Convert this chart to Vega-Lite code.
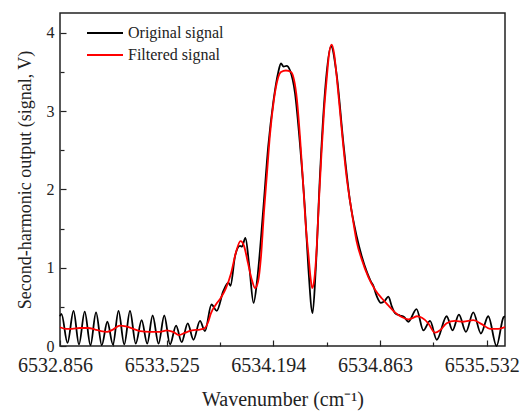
{
  "$schema": "https://vega.github.io/schema/vega-lite/v6.json",
  "width": 445,
  "height": 333,
  "autosize": {"type": "none"},
  "padding": {"left": 60, "top": 13, "right": 17, "bottom": 66},
  "background": "white",
  "config": {
    "view": {"stroke": "#222", "strokeWidth": 1.5},
    "font": "Liberation Serif",
    "axis": {"grid": false, "domain": false, "tickColor": "#222", "tickWidth": 1.2, "labelColor": "#222", "titleColor": "#222", "titleFontWeight": "normal", "labelFont": "Liberation Serif", "titleFont": "Liberation Serif"}
  },
  "datasets": {
    "orig": [
      {"x": 6532.856, "y": 0.38}, {"x": 6532.865, "y": 0.41}, {"x": 6532.903, "y": 0.04}, {"x": 6532.941, "y": 0.45},
      {"x": 6532.975, "y": 0.02}, {"x": 6533.011, "y": 0.44}, {"x": 6533.047, "y": 0.01}, {"x": 6533.082, "y": 0.43},
      {"x": 6533.118, "y": 0.01}, {"x": 6533.153, "y": 0.31}, {"x": 6533.188, "y": 0.02}, {"x": 6533.223, "y": 0.45},
      {"x": 6533.259, "y": 0.02}, {"x": 6533.295, "y": 0.45}, {"x": 6533.331, "y": 0.03}, {"x": 6533.368, "y": 0.33},
      {"x": 6533.403, "y": 0.03}, {"x": 6533.437, "y": 0.39}, {"x": 6533.474, "y": 0.03}, {"x": 6533.510, "y": 0.39},
      {"x": 6533.546, "y": 0.02}, {"x": 6533.584, "y": 0.26}, {"x": 6533.619, "y": 0.05}, {"x": 6533.657, "y": 0.29},
      {"x": 6533.693, "y": 0.08}, {"x": 6533.734, "y": 0.32}, {"x": 6533.765, "y": 0.19}, {"x": 6533.806, "y": 0.53},
      {"x": 6533.839, "y": 0.45}, {"x": 6533.880, "y": 0.70}, {"x": 6533.912, "y": 0.81}, {"x": 6533.925, "y": 0.77},
      {"x": 6533.954, "y": 1.15}, {"x": 6533.985, "y": 1.28}, {"x": 6533.997, "y": 1.27}, {"x": 6534.019, "y": 1.38},
      {"x": 6534.043, "y": 1.02}, {"x": 6534.070, "y": 0.55}, {"x": 6534.093, "y": 0.85}, {"x": 6534.131, "y": 1.75},
      {"x": 6534.162, "y": 2.55}, {"x": 6534.194, "y": 3.12}, {"x": 6534.225, "y": 3.50}, {"x": 6534.242, "y": 3.61},
      {"x": 6534.258, "y": 3.57}, {"x": 6534.277, "y": 3.58}, {"x": 6534.299, "y": 3.52}, {"x": 6534.330, "y": 3.23},
      {"x": 6534.361, "y": 2.58}, {"x": 6534.393, "y": 1.72}, {"x": 6534.413, "y": 1.02}, {"x": 6534.440, "y": 0.42},
      {"x": 6534.460, "y": 0.98}, {"x": 6534.487, "y": 2.20}, {"x": 6534.518, "y": 3.25}, {"x": 6534.556, "y": 3.83},
      {"x": 6534.591, "y": 3.47}, {"x": 6534.633, "y": 2.60}, {"x": 6534.675, "y": 1.85}, {"x": 6534.717, "y": 1.40},
      {"x": 6534.748, "y": 1.15}, {"x": 6534.780, "y": 0.95}, {"x": 6534.807, "y": 0.82}, {"x": 6534.819, "y": 0.78},
      {"x": 6534.842, "y": 0.64}, {"x": 6534.869, "y": 0.55}, {"x": 6534.894, "y": 0.58}, {"x": 6534.915, "y": 0.63},
      {"x": 6534.938, "y": 0.50}, {"x": 6534.957, "y": 0.42}, {"x": 6534.988, "y": 0.39}, {"x": 6535.014, "y": 0.37},
      {"x": 6535.041, "y": 0.31}, {"x": 6535.092, "y": 0.47}, {"x": 6535.135, "y": 0.20}, {"x": 6535.177, "y": 0.32},
      {"x": 6535.219, "y": 0.08}, {"x": 6535.281, "y": 0.38}, {"x": 6535.318, "y": 0.20}, {"x": 6535.358, "y": 0.40},
      {"x": 6535.402, "y": 0.18}, {"x": 6535.448, "y": 0.43}, {"x": 6535.496, "y": 0.16}, {"x": 6535.542, "y": 0.38},
      {"x": 6535.594, "y": 0.00}, {"x": 6535.638, "y": 0.37}, {"x": 6535.647, "y": 0.38}
    ],
    "filt": [
      {"x": 6532.856, "y": 0.24}, {"x": 6532.894, "y": 0.22}, {"x": 6532.931, "y": 0.22}, {"x": 6532.981, "y": 0.23},
      {"x": 6533.032, "y": 0.23}, {"x": 6533.076, "y": 0.21}, {"x": 6533.113, "y": 0.19}, {"x": 6533.151, "y": 0.18},
      {"x": 6533.188, "y": 0.21}, {"x": 6533.232, "y": 0.26}, {"x": 6533.270, "y": 0.25}, {"x": 6533.314, "y": 0.22},
      {"x": 6533.358, "y": 0.19}, {"x": 6533.420, "y": 0.18}, {"x": 6533.483, "y": 0.18}, {"x": 6533.527, "y": 0.20},
      {"x": 6533.565, "y": 0.18}, {"x": 6533.602, "y": 0.14}, {"x": 6533.640, "y": 0.17}, {"x": 6533.684, "y": 0.20},
      {"x": 6533.734, "y": 0.21}, {"x": 6533.765, "y": 0.23}, {"x": 6533.784, "y": 0.30}, {"x": 6533.803, "y": 0.42},
      {"x": 6533.834, "y": 0.53}, {"x": 6533.866, "y": 0.62}, {"x": 6533.897, "y": 0.74}, {"x": 6533.929, "y": 0.93},
      {"x": 6533.960, "y": 1.20}, {"x": 6533.988, "y": 1.34}, {"x": 6534.010, "y": 1.28}, {"x": 6534.035, "y": 1.06},
      {"x": 6534.060, "y": 0.84}, {"x": 6534.079, "y": 0.74}, {"x": 6534.098, "y": 0.82}, {"x": 6534.117, "y": 1.15},
      {"x": 6534.135, "y": 1.70}, {"x": 6534.154, "y": 2.20}, {"x": 6534.173, "y": 2.70}, {"x": 6534.198, "y": 3.15},
      {"x": 6534.223, "y": 3.42}, {"x": 6534.242, "y": 3.50}, {"x": 6534.273, "y": 3.52}, {"x": 6534.305, "y": 3.50},
      {"x": 6534.324, "y": 3.40}, {"x": 6534.342, "y": 3.15}, {"x": 6534.361, "y": 2.68}, {"x": 6534.382, "y": 2.04},
      {"x": 6534.399, "y": 1.50}, {"x": 6534.415, "y": 1.15}, {"x": 6534.427, "y": 0.88}, {"x": 6534.438, "y": 0.74},
      {"x": 6534.451, "y": 0.85}, {"x": 6534.466, "y": 1.25}, {"x": 6534.480, "y": 1.85}, {"x": 6534.497, "y": 2.50},
      {"x": 6534.512, "y": 3.00}, {"x": 6534.529, "y": 3.42}, {"x": 6534.543, "y": 3.72}, {"x": 6534.559, "y": 3.85},
      {"x": 6534.575, "y": 3.74}, {"x": 6534.591, "y": 3.45}, {"x": 6534.612, "y": 3.00}, {"x": 6534.633, "y": 2.55},
      {"x": 6534.654, "y": 2.15}, {"x": 6534.675, "y": 1.85}, {"x": 6534.696, "y": 1.58}, {"x": 6534.717, "y": 1.33},
      {"x": 6534.748, "y": 1.11}, {"x": 6534.790, "y": 0.88}, {"x": 6534.832, "y": 0.72}, {"x": 6534.874, "y": 0.61},
      {"x": 6534.915, "y": 0.52}, {"x": 6534.957, "y": 0.43}, {"x": 6534.999, "y": 0.37}, {"x": 6535.041, "y": 0.34},
      {"x": 6535.070, "y": 0.36}, {"x": 6535.095, "y": 0.38}, {"x": 6535.126, "y": 0.36}, {"x": 6535.166, "y": 0.29},
      {"x": 6535.208, "y": 0.17}, {"x": 6535.239, "y": 0.20}, {"x": 6535.281, "y": 0.29}, {"x": 6535.333, "y": 0.32},
      {"x": 6535.385, "y": 0.31}, {"x": 6535.448, "y": 0.33}, {"x": 6535.501, "y": 0.28}, {"x": 6535.553, "y": 0.22},
      {"x": 6535.605, "y": 0.22}, {"x": 6535.647, "y": 0.24}
    ]
  },
  "encoding": {
    "x": {
      "field": "x", "type": "quantitative",
      "scale": {"domain": [6532.856, 6535.647], "nice": false, "zero": false},
      "axis": {
        "values": [6532.856, 6533.1905, 6533.525, 6533.8595, 6534.194, 6534.5285, 6534.863, 6535.1975, 6535.532],
        "labelExpr": "indexof([6532.856, 6533.525, 6534.194, 6534.863, 6535.532], datum.value) >= 0 ? format(datum.value, '.3f') : ''",
        "tickSize": {"condition": {"test": "indexof([6532.856, 6533.525, 6534.194, 6534.863, 6535.532], datum.value) >= 0", "value": -6}, "value": -4},
        "labelFontSize": 20, "labelPadding": 15, "labelOffset": -5, "labelOverlap": false, "labelFlush": false,
        "title": "Wavenumber (cm⁻¹)", "titleFontSize": 20, "titlePadding": 12
      }
    },
    "y": {
      "field": "y", "type": "quantitative",
      "scale": {"domain": [0, 4.255], "nice": false},
      "axis": {
        "values": [0, 0.5, 1, 1.5, 2, 2.5, 3, 3.5, 4],
        "labelExpr": "datum.value % 1 === 0 ? format(datum.value, 'd') : ''",
        "tickSize": {"condition": {"test": "datum.value % 1 === 0", "value": -6}, "value": -4},
        "labelFontSize": 16, "labelPadding": 12, "labelOverlap": false, "labelFlush": false,
        "title": "Second-harmonic output (signal, V)", "titleFontSize": 18, "titlePadding": 12
      }
    }
  },
  "layer": [
    {
      "data": {"name": "orig"},
      "mark": {"type": "line", "strokeWidth": 1.8, "interpolate": "monotone"},
      "encoding": {
        "color": {
          "datum": "Original signal",
          "scale": {"domain": ["Original signal", "Filtered signal"], "range": ["#000000", "#ff0000"]},
          "legend": {
            "orient": "none", "legendX": 37, "legendY": 12, "title": null, "padding": 0,
            "symbolType": "M-3.6,0H3.6", "symbolSize": 100, "symbolStrokeWidth": 2,
            "labelFontSize": 16, "labelFont": "Liberation Serif", "labelColor": "#222",
            "labelOffset": 15, "rowPadding": 6
          }
        }
      }
    },
    {
      "data": {"name": "filt"},
      "mark": {"type": "line", "strokeWidth": 1.8, "interpolate": "monotone"},
      "encoding": {"color": {"datum": "Filtered signal"}}
    }
  ]
}
